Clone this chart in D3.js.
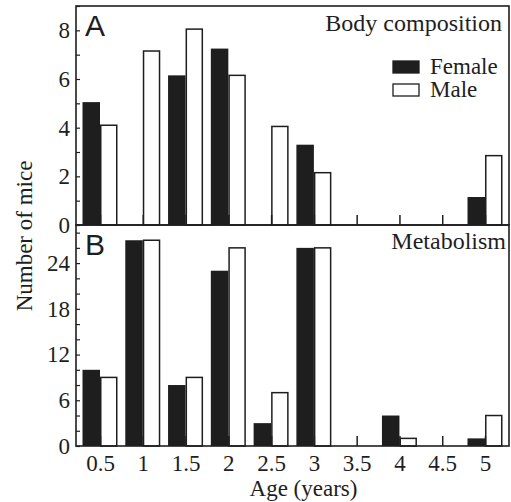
<!DOCTYPE html>
<html><head><meta charset="utf-8">
<script src="https://cdn.jsdelivr.net/npm/d3@7"></script>
<style>body{margin:0;background:#fff}</style>
</head><body>
<script>
const ages = ["0.5","1","1.5","2","2.5","3","3.5","4","4.5","5"];
const bodyFemale = [5.05, 0, 6.15, 7.25, 0, 3.3, 0, 0, 0, 1.15];
const bodyMale   = [4.1, 7.15, 8.05, 6.15, 4.05, 2.15, 0, 0, 0, 2.85];
const metFemale  = [10, 27, 8, 23, 3, 26, 0, 4, 0, 1];
const metMale    = [9, 27, 9, 26, 7, 26, 0, 1, 0, 4];
const bodyTicks = [0, 2, 4, 6, 8];
const metTicks = [0, 6, 12, 18, 24];

const W = 511, H = 502;
const L = 76, R = 509;
const svg = d3.select("body").append("svg").attr("width", W).attr("height", H);
const x = d3.scalePoint().domain(ages).range([L + 24, R - 24]);
const bw = 17.5;
const serif = "'Liberation Serif', 'Times New Roman', serif";
const sans = "'Liberation Sans', Arial, sans-serif";
const ink = "#1e1e1e";
const FS = 23;

function panel(top, bottom, ymax, fem, male, ticks, minorStep, letter, title, titleX, titleY) {
  const y = d3.scaleLinear().domain([0, ymax]).range([bottom, top]);
  const g = svg.append("g");
  ages.forEach((a, i) => {
    if (fem[i] > 0) g.append("rect").attr("x", x(a) - bw).attr("y", y(fem[i]))
      .attr("width", bw).attr("height", y(0) - y(fem[i])).attr("fill", ink);
    if (male[i] > 0) g.append("rect").attr("x", x(a) + 0.75).attr("y", y(male[i]))
      .attr("width", bw - 1.5).attr("height", y(0) - y(male[i])).attr("fill", "#fff")
      .attr("stroke", ink).attr("stroke-width", 1.5);
  });
  g.append("g").attr("transform", `translate(0,${bottom})`)
    .call(d3.axisBottom(x).tickSize(-10).tickFormat(""))
    .call(s => s.select(".domain").remove())
    .selectAll("line").attr("stroke", ink).attr("stroke-width", 1.5);
  const minors = d3.range(0, ymax + 0.001, minorStep);
  g.append("g").attr("transform", `translate(${L},0)`)
    .call(d3.axisRight(y).tickValues(minors).tickSize(4).tickFormat(""))
    .call(s => s.select(".domain").remove())
    .selectAll("line").attr("stroke", ink).attr("stroke-width", 1.2);
  g.append("g").attr("transform", `translate(${L},0)`)
    .call(d3.axisLeft(y).tickValues(ticks).tickSize(0).tickPadding(6))
    .call(s => s.select(".domain").remove())
    .selectAll("text").attr("font-family", serif).attr("font-size", FS).attr("fill", ink);
  g.append("rect").attr("x", L).attr("y", top).attr("width", R - L).attr("height", bottom - top)
    .attr("fill", "none").attr("stroke", ink).attr("stroke-width", 1.6);
  g.append("text").attr("x", L + 9).attr("y", top + 30).attr("font-family", sans)
    .attr("font-size", 30).attr("fill", ink).text(letter);
  g.append("text").attr("x", titleX).attr("y", titleY).attr("text-anchor", "end")
    .attr("font-family", serif).attr("font-size", 24).attr("fill", ink).text(title);
  return y;
}

panel(6, 225, 9, bodyFemale, bodyMale, bodyTicks, 1, "A", "Body composition", 502, 31);
panel(225, 446, 29, metFemale, metMale, metTicks, 2, "B", "Metabolism", 506, 249);

svg.append("g").attr("transform", `translate(0,446)`)
  .call(d3.axisBottom(x).tickSize(0).tickPadding(9))
  .call(s => s.select(".domain").remove())
  .selectAll("text").attr("font-family", serif).attr("font-size", FS).attr("fill", ink);

const leg = [["Female", ink], ["Male", "#fff"]];
leg.forEach((d, i) => {
  svg.append("rect").attr("x", 393).attr("y", 61 + i * 23).attr("width", 26).attr("height", 12)
    .attr("fill", d[1]).attr("stroke", ink).attr("stroke-width", 1.3);
  svg.append("text").attr("x", 430).attr("y", 74 + i * 23).attr("font-family", serif)
    .attr("font-size", FS).attr("fill", ink).text(d[0]);
});

svg.append("text").attr("x", (L + R) / 2 + 11).attr("y", 496).attr("text-anchor", "middle")
  .attr("font-family", serif).attr("font-size", FS).attr("fill", ink).text("Age (years)");
svg.append("text").attr("transform", "translate(32,236) rotate(-90)").attr("text-anchor", "middle")
  .attr("font-family", serif).attr("font-size", FS).attr("fill", ink).text("Number of mice");
</script>
</body></html>
